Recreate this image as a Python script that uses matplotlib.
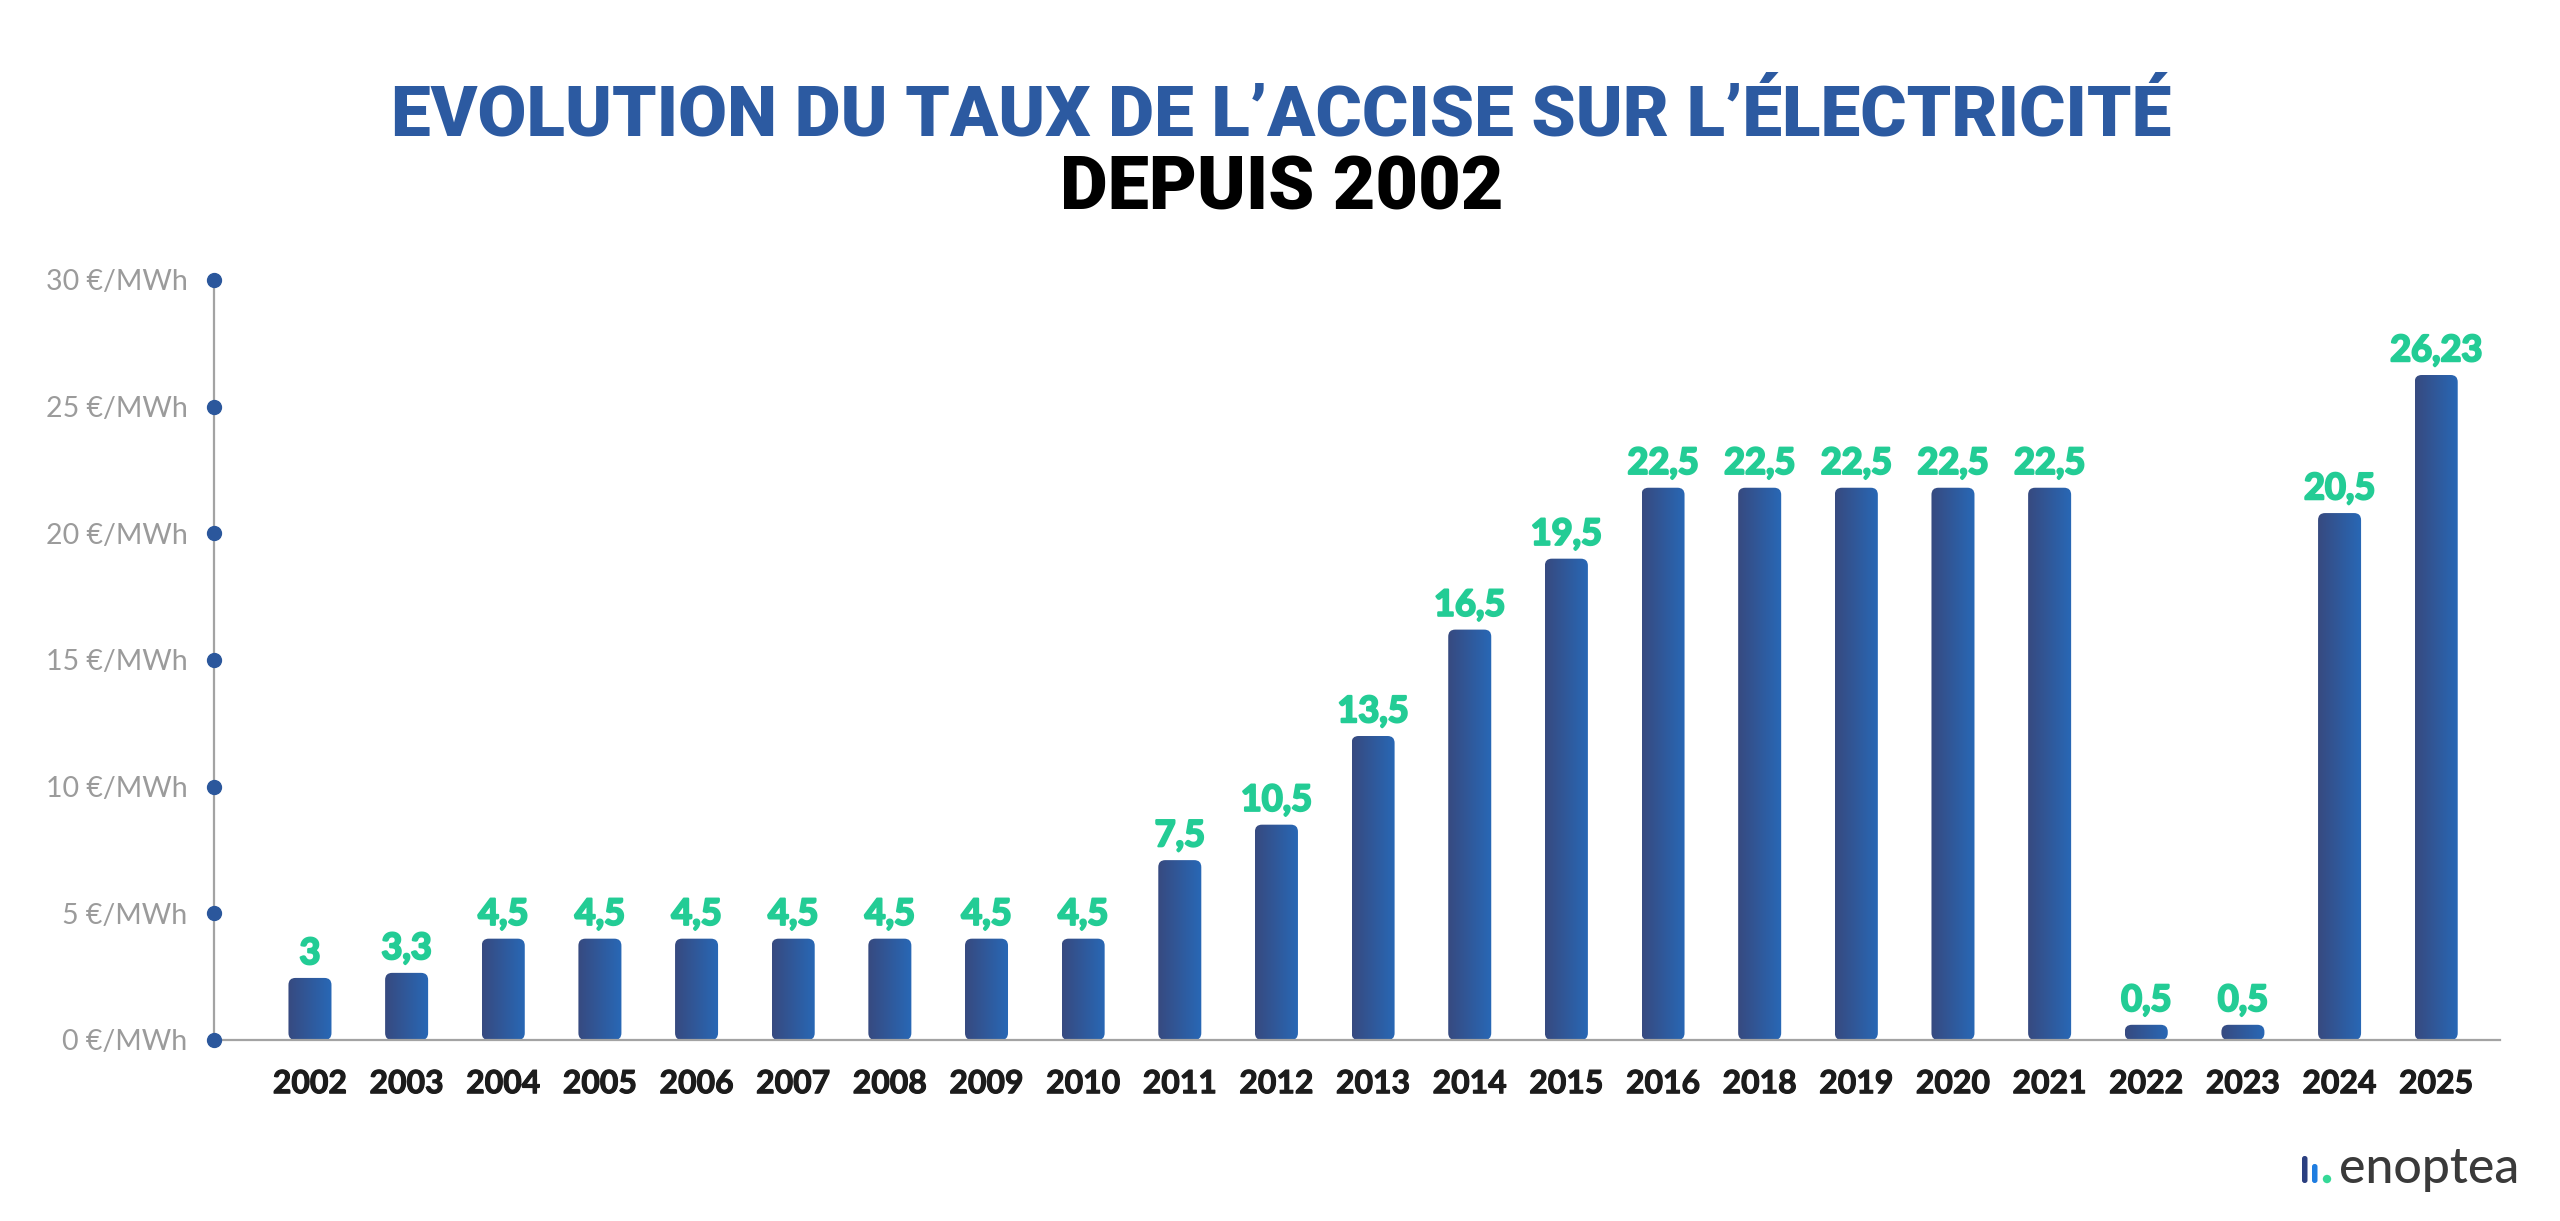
import numpy as np
import matplotlib
matplotlib.use("Agg")
import matplotlib.pyplot as plt
from matplotlib.patches import FancyBboxPatch, Circle
from matplotlib.colors import LinearSegmentedColormap
import matplotlib.patheffects as pe

# ---- data ----
years = ["2002", "2003", "2004", "2005", "2006", "2007", "2008", "2009", "2010",
         "2011", "2012", "2013", "2014", "2015", "2016", "2018", "2019", "2020",
         "2021", "2022", "2023", "2024", "2025"]
value_labels = ["3", "3,3", "4,5", "4,5", "4,5", "4,5", "4,5", "4,5", "4,5",
                "7,5", "10,5", "13,5", "16,5", "19,5", "22,5", "22,5", "22,5", "22,5",
                "22,5", "0,5", "0,5", "20,5", "26,23"]
# bar heights as drawn in the picture (€/MWh)
bar_heights = [2.45, 2.65, 4.0, 4.0, 4.0, 4.0, 4.0, 4.0, 4.0,
               7.1, 8.5, 12.0, 16.2, 19.0, 21.8, 21.8, 21.8, 21.8,
               21.8, 0.6, 0.6, 20.8, 26.25]
y_ticks = [0, 5, 10, 15, 20, 25, 30]
y_tick_labels = ["0 €/MWh", "5 €/MWh", "10 €/MWh", "15 €/MWh", "20 €/MWh", "25 €/MWh", "30 €/MWh"]
title1 = "EVOLUTION DU TAUX DE L’ACCISE SUR L’ÉLECTRICITÉ"
title2 = "DEPUIS 2002"

W, H = 2560, 1221
fig = plt.figure(figsize=(W / 100, H / 100), dpi=100)
fig.patch.set_facecolor("white")

ax_left, ax_right, ax_top, ax_bot = 214, 2500, 280, 1040
ax = fig.add_axes([ax_left / W, (H - ax_bot) / H, (ax_right - ax_left) / W, (ax_bot - ax_top) / H])
xmin, xmax = -0.993, 22.66
ax.set_xlim(xmin, xmax)
ax.set_ylim(0, 30)
ax.set_facecolor("none")

for s in ["top", "right"]:
    ax.spines[s].set_visible(False)
for s in ["left", "bottom"]:
    ax.spines[s].set_color("#a3a3a3")
    ax.spines[s].set_linewidth(1.6)

x = np.arange(len(years))
bw = 0.445
cmap = LinearSegmentedColormap.from_list("bar", ["#374a80", "#2868b6"])
grad = np.linspace(0, 1, 64).reshape(1, -1)

px_per_x = (ax_right - ax_left) / (xmax - xmin)
px_per_y = (ax_bot - ax_top) / 30.0
aspect = px_per_x / px_per_y
r_px = 7
for xi, h in zip(x, bar_heights):
    patch = FancyBboxPatch((xi - bw / 2, 0), bw, h,
                           boxstyle=f"round,pad=0,rounding_size={r_px / px_per_x}",
                           mutation_aspect=aspect, facecolor="none", edgecolor="none")
    ax.add_patch(patch)
    im = ax.imshow(grad, cmap=cmap, aspect="auto",
                   extent=[xi - bw / 2, xi + bw / 2, 0, h], zorder=2, interpolation="bilinear")
    im.set_clip_path(patch)

ax.set_xlim(xmin, xmax)
ax.set_ylim(0, 30)

green = "#23cc95"
for xi, h, lab in zip(x, bar_heights, value_labels):
    ax.annotate(lab, (xi, h), xytext=(0, 10), textcoords="offset points",
                ha="center", va="baseline", fontsize=26, fontweight="bold",
                family="Lato", color=green, zorder=3,
                path_effects=[pe.withStroke(linewidth=1.6, foreground=green)])

# y ticks
ax.set_yticks(y_ticks)
ax.set_yticklabels(y_tick_labels, family="Lato", fontsize=20.5, color="#9b9b9b")
ax.tick_params(axis="y", length=0, pad=19)
ax.plot([xmin] * len(y_ticks), y_ticks, "o", color="#2b579c", markersize=10,
        clip_on=False, zorder=5)

# x ticks
ax.set_xticks(x)
ax.set_xticklabels(years, family="Lato", fontsize=23, fontweight="bold", color="#1c1c1c")
for t in ax.get_xticklabels():
    t.set_path_effects([pe.withStroke(linewidth=0.8, foreground="#1c1c1c")])
ax.tick_params(axis="x", length=0, pad=21)

# titles, fitted to measured widths
renderer = fig.canvas.get_renderer()

def fitted_text(txt, cx, cy, target_w, color, base=50):
    t = fig.text(cx / W, 1 - cy / H, txt, ha="center", va="center", fontsize=base,
                 family="Roboto", fontweight="black", color=color)
    bb = t.get_window_extent(renderer=renderer)
    t.set_fontsize(base * target_w / bb.width)
    return t

fitted_text(title1, 1281, 116, 1782, "#2c5aa1")
fitted_text(title2, 1282, 189, 444, "#000000")

# logo
fig.text(2339 / W, 1 - 1183 / H, "enoptea", ha="left", va="baseline",
         fontsize=36, family="Lato", fontweight="medium", color="#3a3a3a")
lax = fig.add_axes([2295 / W, 1 - 1190 / H, 40 / W, 40 / H])
lax.set_xlim(2295, 2335)
lax.set_ylim(1190, 1150)
lax.axis("off")
lax.add_patch(FancyBboxPatch((2302, 1156), 5.5, 27, boxstyle="round,pad=0,rounding_size=2.6",
                             facecolor="#2b3f80", edgecolor="none"))
lax.add_patch(FancyBboxPatch((2312, 1164), 5.5, 19, boxstyle="round,pad=0,rounding_size=2.6",
                             facecolor="#1f7de0", edgecolor="none"))
lax.add_patch(Circle((2327, 1179), 4.2, facecolor="#35d997", edgecolor="none"))

fig.savefig("out.png", dpi=100, facecolor="white")
